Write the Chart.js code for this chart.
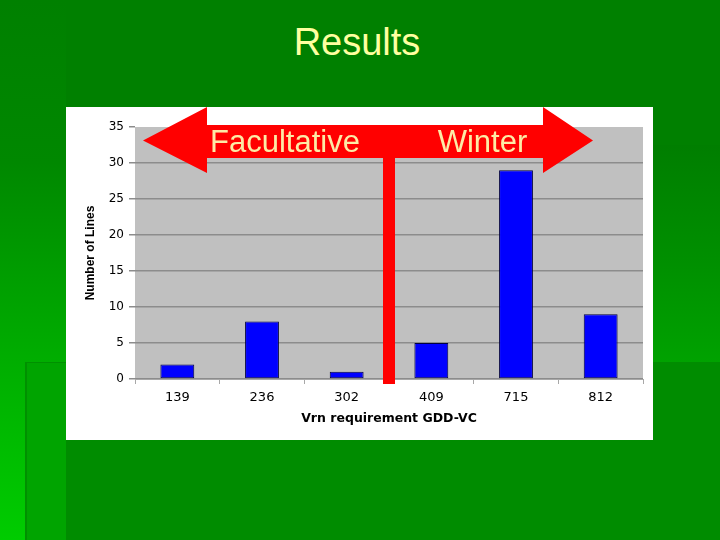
<!DOCTYPE html>
<html>
<head>
<meta charset="utf-8">
<script src="https://cdn.jsdelivr.net/npm/chart.js@4/dist/chart.umd.min.js"></script>
<style>
  html, body { margin: 0; padding: 0; }
  body { width: 720px; height: 540px; position: relative; overflow: hidden; background: #008000; font-family: "Liberation Sans", Arial, sans-serif; }
  .bg { position: absolute; }
  #title { position: absolute; left: 0; width: 714px; top: 23px; text-align: center; font-size: 38px; line-height: 38px; color: #ffffa0; }
  #chartBox { position: absolute; left: 66px; top: 107px; width: 587px; height: 333px; background: #ffffff; }
</style>
</head>
<body>
<div class="bg" style="left:0;top:0;width:66px;height:540px;background:linear-gradient(to bottom,#008000 0%,#008800 30%,#00ac00 65%,#00cc00 100%);"></div>
<div class="bg" style="left:25px;top:362px;width:41px;height:178px;background:#00a400;border-left:2px solid #009000;border-top:1px solid #009000;"></div>
<div class="bg" style="left:66px;top:440px;width:654px;height:100px;background:#008c00;"></div>
<div class="bg" style="left:653px;top:145px;width:67px;height:217px;background:linear-gradient(to bottom,#007e00 0%,#009000 55%,#00a200 100%);"></div>
<div class="bg" style="left:653px;top:362px;width:67px;height:178px;background:#008c00;"></div>
<div id="title">Results</div>
<div id="chartBox"><canvas id="c" width="587" height="333"></canvas></div>
<script>
const categories = ["139", "236", "302", "409", "715", "812"];
const lineCounts = [2, 8, 1, 5, 29, 9];
const yTicks = [0, 5, 10, 15, 20, 25, 30, 35];
const groupLabels = ["Facultative", "Winter"];

const plotBg = {
  id: 'plotBg',
  beforeDraw(chart) {
    const {ctx, chartArea: a} = chart;
    ctx.save();
    ctx.fillStyle = '#c0c0c0';
    ctx.fillRect(a.left, a.top, a.right - a.left, a.bottom - a.top);
    ctx.restore();
  }
};

const arrows = {
  id: 'arrows',
  afterDraw(chart) {
    const ctx = chart.ctx;
    const x = chart.scales.x;
    const a = chart.chartArea;
    const split = (x.getPixelForValue(2) + x.getPixelForValue(3)) / 2;
    const bodyTop = a.top - 2, bodyBot = a.top + 31, midY = a.top + 13.5;
    const headTop = a.top - 20, headBot = a.top + 46;
    const lBase = a.left + 72, lTip = a.left + 8;
    const rBase = a.left + 408, rTip = a.left + 458;
    ctx.save();
    ctx.fillStyle = '#ff0000';
    ctx.beginPath();
    ctx.moveTo(lTip, midY);
    ctx.lineTo(lBase, headTop);
    ctx.lineTo(lBase, bodyTop);
    ctx.lineTo(rBase, bodyTop);
    ctx.lineTo(rBase, headTop);
    ctx.lineTo(rTip, midY);
    ctx.lineTo(rBase, headBot);
    ctx.lineTo(rBase, bodyBot);
    ctx.lineTo(lBase, bodyBot);
    ctx.lineTo(lBase, headBot);
    ctx.closePath();
    ctx.fill();
    ctx.fillRect(split - 6, bodyTop, 12, a.bottom + 5 - bodyTop);
    ctx.fillStyle = '#fdeba6';
    ctx.font = '31px "Liberation Sans", Arial, sans-serif';
    ctx.textAlign = 'center';
    ctx.textBaseline = 'alphabetic';
    ctx.fillText(groupLabels[0], a.left + 150, a.top + 25);
    ctx.fillText(groupLabels[1], a.left + 347.5, a.top + 25);
    ctx.restore();
  }
};

new Chart(document.getElementById('c'), {
  type: 'bar',
  data: {
    labels: categories,
    datasets: [{
      data: lineCounts,
      backgroundColor: '#0000ff',
      borderColor: '#000040',
      borderWidth: 1,
      borderSkipped: false,
      barPercentage: 0.4,
      categoryPercentage: 1.0
    }]
  },
  options: {
    responsive: false,
    animation: false,
    layout: { padding: { top: 20, right: 10, left: 0, bottom: 0 } },
    plugins: { legend: { display: false }, tooltip: { enabled: false }, title: { display: false } },
    scales: {
      x: {
        afterFit(s) { s.height = 61; },
        grid: { display: true, drawOnChartArea: false, offset: true, tickLength: 5, color: '#a8a8a8', lineWidth: 1 },
        border: { display: true, color: '#a8a8a8', width: 1 },
        ticks: { color: '#000', padding: 6, font: { family: '"DejaVu Sans", Verdana, sans-serif', size: 13 } },
        title: { display: true, text: 'Vrn requirement GDD-VC', color: '#000', padding: { top: 0, bottom: 14 },
                 font: { family: '"DejaVu Sans", Verdana, sans-serif', size: 12.5, weight: 'bold' } }
      },
      y: {
        min: 0, max: 35,
        afterFit(s) { s.width = 69; },
        afterBuildTicks(s) { s.ticks = yTicks.map(v => ({ value: v })); },
        grid: {
          color: (c) => (c.tick && c.tick.value === 35) ? 'rgba(0,0,0,0)' : '#8c8c8c',
          tickColor: '#8c8c8c', lineWidth: 1.5, tickLength: 6
        },
        border: { display: false },
        ticks: { color: '#000', padding: 5, font: { family: '"DejaVu Sans", Verdana, sans-serif', size: 12 } },
        title: { display: true, text: 'Number of Lines', color: '#000', padding: { top: 17, bottom: 0 },
                 font: { family: '"Liberation Sans", Arial, sans-serif', size: 12, weight: 'bold' } }
      }
    }
  },
  plugins: [plotBg, arrows]
});
</script>
</body>
</html>
